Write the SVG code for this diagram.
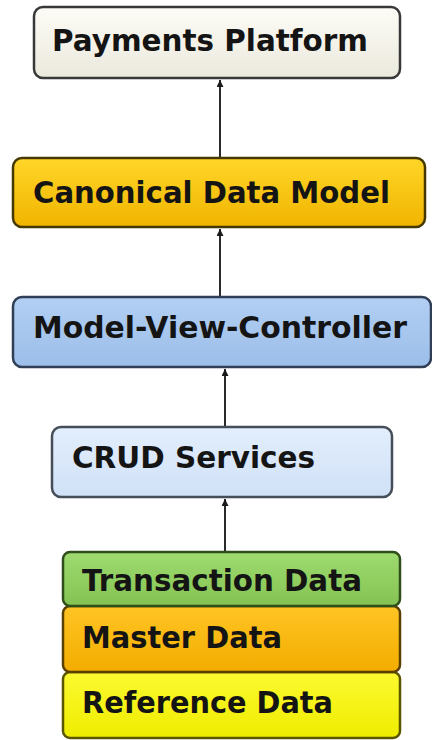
<svg xmlns="http://www.w3.org/2000/svg" width="432" height="740" viewBox="0 0 432 740">
<defs>
<linearGradient id="gPay" x1="0" y1="0" x2="0" y2="1"><stop offset="0" stop-color="#fdfcf6"/><stop offset="1" stop-color="#ebe9dd"/></linearGradient>
<linearGradient id="gCan" x1="0" y1="0" x2="0" y2="1"><stop offset="0" stop-color="#ffd628"/><stop offset="1" stop-color="#f0b400"/></linearGradient>
<linearGradient id="gMvc" x1="0" y1="0" x2="0" y2="1"><stop offset="0" stop-color="#b2cff3"/><stop offset="1" stop-color="#9cbee9"/></linearGradient>
<linearGradient id="gCrud" x1="0" y1="0" x2="0" y2="1"><stop offset="0" stop-color="#e2eefc"/><stop offset="1" stop-color="#d0e1f7"/></linearGradient>
<linearGradient id="gTx" x1="0" y1="0" x2="0" y2="1"><stop offset="0" stop-color="#9edb70"/><stop offset="1" stop-color="#84c352"/></linearGradient>
<linearGradient id="gMas" x1="0" y1="0" x2="0" y2="1"><stop offset="0" stop-color="#ffc424"/><stop offset="1" stop-color="#f3ad00"/></linearGradient>
<linearGradient id="gRef" x1="0" y1="0" x2="0" y2="1"><stop offset="0" stop-color="#fcfa30"/><stop offset="1" stop-color="#efec00"/></linearGradient>
<marker id="arr" viewBox="0 0 10 10" refX="10" refY="5" markerWidth="7" markerHeight="7" orient="auto" markerUnits="userSpaceOnUse">
<path d="M0,0 L10,5 L0,10 z" fill="#1a1a1a"/>
</marker>
</defs>
<style>
.box{stroke-width:2.5}
.lbl{font-family:"DejaVu Sans","Liberation Sans",sans-serif;font-weight:bold;font-size:30px;fill:#141414}
.con{stroke:#2a2a2a;stroke-width:2;fill:none;marker-end:url(#arr)}
</style>
<rect width="432" height="740" fill="#ffffff"/>
<g id="connectors">
<line class="con" x1="220" y1="158" x2="220" y2="80"/>
<line class="con" x1="220" y1="297" x2="220" y2="229"/>
<line class="con" x1="225" y1="427" x2="225" y2="369"/>
<line class="con" x1="225" y1="552" x2="225" y2="499"/>
</g>
<g id="payments">
<rect class="box" x="34" y="7" width="366" height="71" rx="9" fill="url(#gPay)" stroke="#383838"/>
<text class="lbl" x="52" y="51" textLength="316" lengthAdjust="spacingAndGlyphs">Payments Platform</text>
</g>
<g id="canonical">
<rect class="box" x="13" y="158" width="412" height="69" rx="9" fill="url(#gCan)" stroke="#453800"/>
<text class="lbl" x="33" y="203" textLength="357" lengthAdjust="spacingAndGlyphs">Canonical Data Model</text>
</g>
<g id="mvc">
<rect class="box" x="13" y="297" width="418" height="70" rx="9" fill="url(#gMvc)" stroke="#303f55"/>
<text class="lbl" x="33" y="338" textLength="374" lengthAdjust="spacingAndGlyphs">Model-View-Controller</text>
</g>
<g id="crud">
<rect class="box" x="52" y="427" width="340" height="70" rx="9" fill="url(#gCrud)" stroke="#454d58"/>
<text class="lbl" x="72" y="468" textLength="243" lengthAdjust="spacingAndGlyphs">CRUD Services</text>
</g>
<g id="reference">
<rect class="box" x="63" y="672" width="337" height="66" rx="7" fill="url(#gRef)" stroke="#5a5600"/>
<text class="lbl" x="82" y="713" textLength="251" lengthAdjust="spacingAndGlyphs">Reference Data</text>
</g>
<g id="master">
<rect class="box" x="63" y="606" width="337" height="66" rx="7" fill="url(#gMas)" stroke="#5a4000"/>
<text class="lbl" x="82" y="648" textLength="200" lengthAdjust="spacingAndGlyphs">Master Data</text>
</g>
<g id="transaction">
<rect class="box" x="63" y="552" width="337" height="54" rx="7" fill="url(#gTx)" stroke="#2f4e1a"/>
<text class="lbl" x="82" y="591" textLength="280" lengthAdjust="spacingAndGlyphs" fill="#0e1e08">Transaction Data</text>
</g>
</svg>
